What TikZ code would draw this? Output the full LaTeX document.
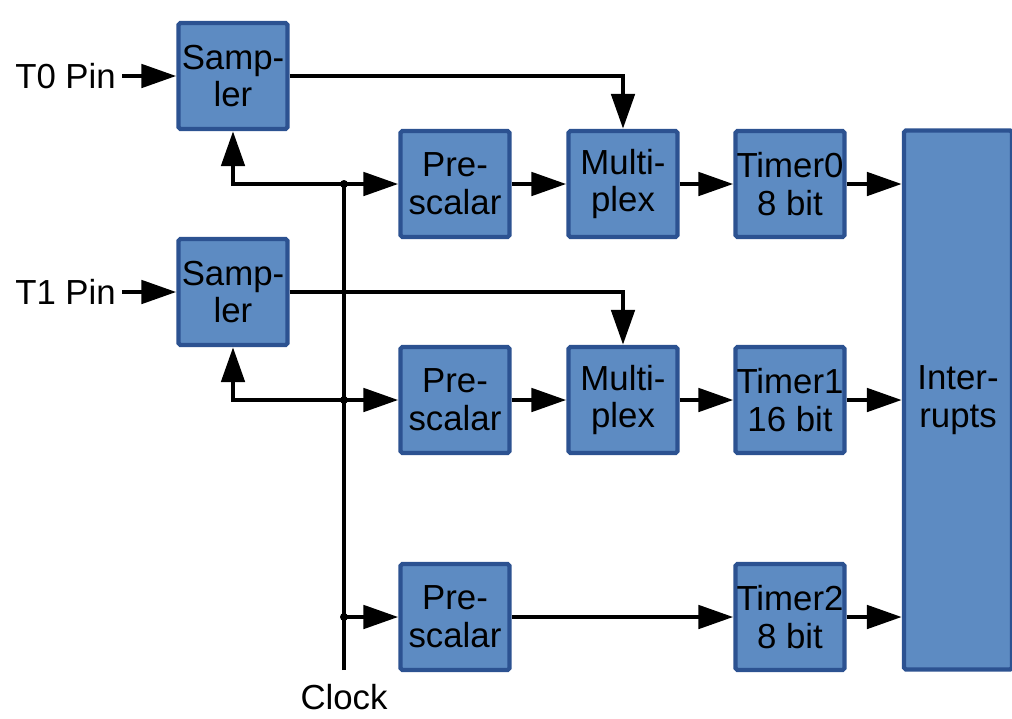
\documentclass[tikz,border=0pt]{standalone}
\usepackage{fontspec}
\setmainfont{Liberation Sans}
\usetikzlibrary{arrows.meta}
\definecolor{boxfill}{RGB}{93,139,194}
\definecolor{boxline}{RGB}{44,82,145}
\begin{document}
\begin{tikzpicture}[x=0.02cm, y=-0.02cm,
    font=\fontsize{19.8}{21.5}\selectfont,
    block/.style={draw=boxline, fill=boxfill, line width=2.4pt, rounded corners=1pt,
        minimum width=2.18cm, minimum height=2.12cm, align=center, inner sep=0pt},
    wire/.style={line width=2.8pt},
    feed/.style={wire, -{Triangle[length=0.7cm, width=0.46cm]}},
    joint/.style={fill=black}]
    \useasboundingbox (0, 0) rectangle (1012, 718);

    % samplers
    \node[block] (smp0) at (233, 76) {Samp-\\ler};
    \node[block] (smp1) at (233, 292) {Samp-\\ler};

    % row 0
    \node[block] (pre0) at (455, 184) {Pre-\\scalar};
    \node[block] (mux0) at (623, 184) {Multi-\\plex};
    \node[block] (tmr0) at (790, 184) {Timer0\\8 bit};

    % row 1
    \node[block] (pre1) at (455, 400) {Pre-\\scalar};
    \node[block] (mux1) at (623, 400) {Multi-\\plex};
    \node[block] (tmr1) at (790, 400) {Timer1\\16 bit};

    % row 2
    \node[block] (pre2) at (455, 617) {Pre-\\scalar};
    \node[block] (tmr2) at (790, 617) {Timer2\\8 bit};

    % interrupts
    \node[block, minimum width=2.16cm, minimum height=10.78cm] (irq) at (958, 400) {Inter-\\rupts};

    % pins and clock
    \node[anchor=east] (pin0) at (122, 76) {T0 Pin};
    \node[anchor=east] (pin1) at (122, 292) {T1 Pin};
    \node (clk) at (344, 697) {Clock};
    \coordinate (cb) at (344, 670);
    \coordinate (j0) at (344, 184);
    \coordinate (j1) at (344, 400);
    \coordinate (j2) at (344, 617);

    % clock line
    \draw[wire] (cb) -- (j0);
    \fill[joint] (j0) circle (4);
    \fill[joint] (j1) circle (4);
    \fill[joint] (j2) circle (4);

    % inputs
    \draw[feed] (pin0) -- (smp0);
    \draw[feed] (pin1) -- (smp1);
    \draw[feed] (j0) -| (smp0.south);
    \draw[feed] (j1) -| (smp1.south);
    \draw[feed] (smp0.east) -| (mux0.north);
    \draw[feed] (smp1.east) -| (mux1.north);

    % chains
    \draw[feed] (j0) -- (pre0);
    \draw[feed] (pre0) -- (mux0);
    \draw[feed] (mux0) -- (tmr0);
    \draw[feed] (tmr0) -- (tmr0 -| irq.west);
    \draw[feed] (j1) -- (pre1);
    \draw[feed] (pre1) -- (mux1);
    \draw[feed] (mux1) -- (tmr1);
    \draw[feed] (tmr1) -- (tmr1 -| irq.west);
    \draw[feed] (j2) -- (pre2);
    \draw[feed] (pre2) -- (tmr2);
    \draw[feed] (tmr2) -- (tmr2 -| irq.west);
\end{tikzpicture}
\end{document}
